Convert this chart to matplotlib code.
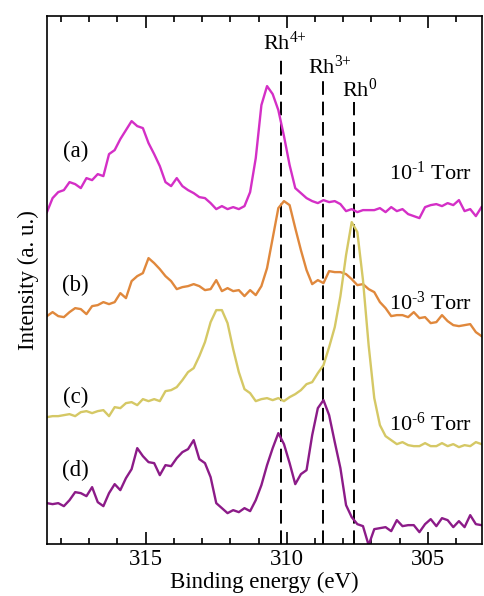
import matplotlib
matplotlib.use('Agg')
import matplotlib.pyplot as plt
from matplotlib.ticker import MultipleLocator

plt.rcParams['font.family'] = ['Liberation Serif', 'DejaVu Serif']
plt.rcParams['mathtext.fontset'] = 'custom'
plt.rcParams['mathtext.rm'] = 'Liberation Serif'
plt.rcParams['mathtext.it'] = 'Liberation Serif:italic'

# binding energy grid (eV)
energy = [318.5, 318.3, 318.1, 317.9, 317.7, 317.5, 317.3, 317.1, 316.9, 316.7,
          316.5, 316.3, 316.1, 315.9, 315.7, 315.5, 315.3, 315.1, 314.9, 314.7,
          314.5, 314.3, 314.1, 313.9, 313.7, 313.5, 313.3, 313.1, 312.9, 312.7,
          312.5, 312.3, 312.1, 311.9, 311.7, 311.5, 311.3, 311.1, 310.9, 310.7,
          310.5, 310.3, 310.1, 309.9, 309.7, 309.5, 309.3, 309.1, 308.9, 308.7,
          308.5, 308.3, 308.1, 307.9, 307.7, 307.5, 307.3, 307.1, 306.9, 306.7,
          306.5, 306.3, 306.1, 305.9, 305.7, 305.5, 305.3, 305.1, 304.9, 304.7,
          304.5, 304.3, 304.1, 303.9, 303.7, 303.5, 303.3, 303.1]

# stacked spectra, intensity in a.u. (offsets included)
spec_a = [332, 346, 352, 354, 362, 360, 356, 366, 364, 370,
          368, 390, 394, 405, 414, 423, 418, 416, 401, 390,
          378, 362, 358, 366, 358, 354, 351, 347, 346, 341,
          335, 338, 335, 337, 335, 338, 352, 386, 439, 458,
          450, 434, 408, 379, 356, 351, 346, 343, 341, 344,
          342, 343, 340, 333, 335, 332, 334, 334, 334, 336,
          332, 337, 333, 335, 330, 328, 326, 337, 339, 340,
          338, 341, 339, 344, 333, 335, 328, 337]
spec_b = [228, 232, 228, 227, 232, 236, 235, 230, 238, 239,
          242, 240, 242, 251, 246, 263, 268, 271, 286, 281,
          275, 268, 263, 255, 257, 258, 260, 258, 254, 255,
          264, 253, 256, 253, 254, 248, 254, 249, 258, 276,
          306, 336, 343, 339, 316, 294, 274, 260, 264, 261,
          273, 272, 272, 270, 265, 259, 260, 255, 252, 242,
          236, 228, 229, 229, 227, 232, 226, 227, 221, 222,
          229, 223, 219, 218, 219, 220, 212, 208]
spec_c = [127, 128, 128, 129, 130, 128, 132, 133, 131, 133,
          134, 128, 137, 136, 141, 142, 139, 145, 143, 145,
          143, 153, 154, 157, 164, 172, 176, 188, 202, 222,
          234, 234, 221, 195, 172, 155, 151, 143, 145, 146,
          144, 146, 143, 147, 150, 154, 160, 162, 171, 179,
          197, 217, 248, 289, 322, 312, 264, 199, 146, 119,
          108, 104, 100, 102, 99, 98, 98, 101, 98, 98,
          101, 98, 100, 97, 99, 98, 102, 100]
spec_d = [41, 40, 41, 38, 44, 52, 51, 48, 57, 42,
          38, 51, 60, 54, 66, 75, 96, 88, 82, 81,
          69, 79, 78, 86, 92, 95, 104, 85, 81, 67,
          41, 36, 31, 34, 32, 36, 33, 44, 59, 79,
          96, 111, 100, 81, 60, 70, 74, 109, 136, 144,
          129, 102, 76, 39, 27, 20, 18, -1, 15, 16,
          17, 13, 24, 18, 19, 19, 12, 20, 25, 18,
          26, 24, 17, 23, 17, 29, 20, 19]

colors = ['#d42fc6', '#e0883c', '#d5c865', '#8c1b88']
tags = ['(a)', '(b)', '(c)', '(d)']
tag_y = [393, 259, 147, 74]
pressures = [r'10$^{\text{-1}}$ Torr', r'10$^{\text{-3}}$ Torr', r'10$^{\text{-6}}$ Torr']
pressure_y = [371, 241, 120]

# reference lines: energy, top of line, label position
ref_labels = [r'Rh$^{\text{4+}}$', r'Rh$^{\text{3+}}$', r'Rh$^{\text{0}}$']
ref_energy = [310.22, 308.73, 307.63]
ref_top = [489, 464, 442]
ref_label_x = [310.07, 308.48, 307.41]
ref_label_y = [501, 477, 454]

fig = plt.figure(figsize=(4.84, 5.96), dpi=100)
ax = fig.add_axes([0.097, 0.087, 0.899, 0.886])

for e, top in zip(ref_energy, ref_top):
    ax.plot([e, e], [0, top], color='black', lw=1.4, dashes=(7, 3.5), zorder=1)

for spec, c in zip([spec_a, spec_b, spec_c, spec_d], colors):
    ax.plot(energy, spec, color=c, lw=1.7, zorder=2)

for t, y in zip(tags, tag_y):
    ax.text(317.48, y, t, fontsize=16.5, ha='center', va='center')
for p, y in zip(pressures, pressure_y):
    ax.text(304.93, y, p, fontsize=16, ha='center', va='center')
for lab, x, y in zip(ref_labels, ref_label_x, ref_label_y):
    ax.text(x, y, lab, fontsize=16, ha='center', va='center')

ax.set_xlim(318.5, 303.08)
ax.set_ylim(0, 528)
ax.xaxis.set_major_locator(MultipleLocator(5))
ax.xaxis.set_minor_locator(MultipleLocator(1))
ax.set_yticks([])
ax.tick_params(axis='x', which='both', direction='in', top=True, bottom=True,
               labelsize=16.5, width=1.2)
ax.tick_params(axis='x', which='major', length=8.5)
ax.tick_params(axis='x', which='minor', length=4.5)
for s in ax.spines.values():
    s.set_linewidth(1.2)

ax.set_xlabel('Binding energy (eV)', fontsize=16.5, labelpad=1)
ax.set_ylabel('Intensity (a. u.)', fontsize=16.5, labelpad=6)

fig.savefig('out.png', dpi=100)
